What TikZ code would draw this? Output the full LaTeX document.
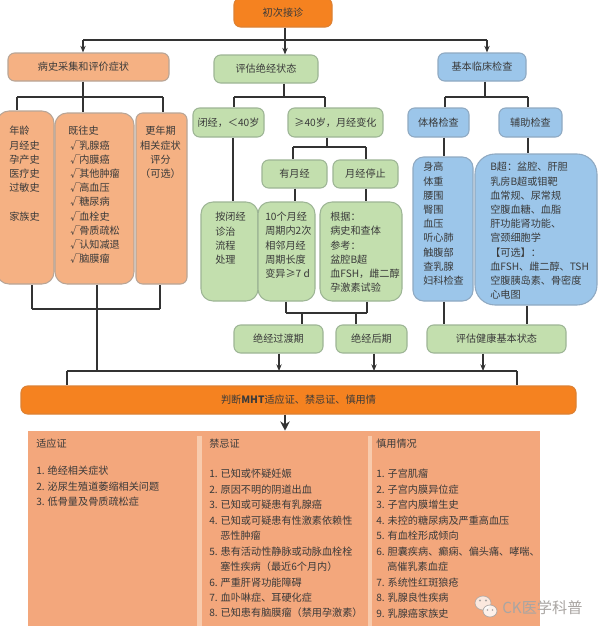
\documentclass[tikz,border=0pt]{standalone}
\usepackage{fontspec}
\setmainfont{Noto Sans CJK SC}
\usetikzlibrary{arrows.meta}
\definecolor{cOr}{HTML}{F58220}
\definecolor{cOrL}{HTML}{F5B183}
\definecolor{cOrB}{HTML}{B8A596}
\definecolor{cGr}{HTML}{C3DFAE}
\definecolor{cGrB}{HTML}{9DB595}
\definecolor{cBl}{HTML}{9CC6EA}
\definecolor{cBlB}{HTML}{8FA9C2}
\definecolor{cPan}{HTML}{F3A77C}
\definecolor{cDiv}{HTML}{F8CBAD}
\definecolor{cTx}{HTML}{3A3A3A}
\definecolor{cLn}{HTML}{333333}
\definecolor{cMark}{HTML}{A9A5A2}
\tikzset{
 bxbase/.style={draw,line width=0.8pt,inner sep=0pt,rounded corners=5pt,text=cTx,font=\fontsize{7.6}{10}\selectfont},
 orbox/.style={bxbase,fill=cOrL,draw=cOrB},
 orbig/.style={orbox,rounded corners=9pt},
 grbox/.style={bxbase,fill=cGr,draw=cGrB},
 grbig/.style={grbox,rounded corners=9pt},
 blbox/.style={bxbase,fill=cBl,draw=cBlB},
 blbig/.style={blbox,rounded corners=8pt},
 blhuge/.style={blbox,rounded corners=15pt},
 hotbox/.style={bxbase,fill=cOr,draw=cOr!80!gray},
 ln/.style={draw=cLn,line width=0.8pt},
 arr/.style={ln,-{Stealth[length=5pt,width=4pt]}},
 arrbig/.style={ln,line width=1pt,-{Stealth[length=7pt,width=7pt]}},
 txleft/.style={inner sep=0pt,anchor=north west,align=left,text=cTx,font=\fontsize{7.6}{10.65}\selectfont},
 txmid/.style={inner sep=0pt,anchor=north,align=center,text=cTx,font=\fontsize{7.6}{10.65}\selectfont},
 txpanel/.style={inner sep=0pt,anchor=north west,align=left,text=cTx,font=\fontsize{7.6}{11.6}\selectfont},
 wm/.style={inner sep=0pt,anchor=west,text=cMark,font=\fontsize{11.4}{12}\selectfont},
}
\newcommand{\bx}[7]{%
 \pgfmathsetmacro\bw{(#4-#2)*0.75}\pgfmathsetmacro\bh{(#5-#3)*0.75}%
 \node[#6,minimum width=\bw pt,minimum height=\bh pt] (#1) at ({(#2+#4)/2},{(#3+#5)/2}) {#7};}
\newcommand{\ck}{\hspace*{1.5pt}\makebox[6.8pt][l]{√}}
\newcommand{\hg}{\hspace*{8.3pt}}
\begin{document}
\begin{tikzpicture}[x=0.75pt,y=-0.75pt]
\useasboundingbox (0,0) rectangle (600,632);
\fill[white] (0,0) rectangle (600,632);
% top row
\bx{first}{234}{-2}{332}{27}{hotbox}{初次接诊}
\bx{hist}{8}{53}{169}{81}{orbox}{病史采集和评价症状\hspace*{7.5pt}}
\bx{meno}{214}{55}{318}{83}{grbox}{评估绝经状态}
\bx{basic}{438}{53}{526}{81}{blbox}{基本临床检查}
% history boxes
\bx{hA}{-3}{111}{54}{284}{orbig}{}
\bx{hB}{55}{113}{134}{284}{orbig}{}
\bx{hC}{136}{113}{187}{284}{orbox}{}
\node[txleft] (hAt) at (9,126) {年龄\\月经史\\孕产史\\医疗史\\过敏史\\[10.65pt]家族史};
\node[txleft] (hBt) at (68,126) {既往史\\\ck 乳腺癌\\\ck 内膜癌\\\ck 其他肿瘤\\\ck 高血压\\\ck 糖尿病\\\ck 血栓史\\\ck 骨质疏松\\\ck 认知减退\\\ck 脑膜瘤};
\node[txmid] (hCt) at (160.5,126) {更年期\\相关症状\\评分\\（可选）};
% menopause boxes
\bx{amen}{193}{108}{264}{137}{grbox}{闭经，＜40岁}
\bx{over}{288}{108}{383}{137}{grbox}{≥40岁，月经变化}
\bx{hasm}{262}{160}{327}{188}{grbox}{有月经}
\bx{stop}{333}{160}{398}{188}{grbox}{月经停止}
\bx{gA}{201}{202}{258}{301}{grbig}{}
\bx{gB}{258}{202}{315}{301}{grbig}{}
\bx{gC}{320}{202}{402}{301}{grbig}{}
\node[txleft] (gAt) at (215,212) {按闭经\\诊治\\流程\\处理};
\node[txleft] (gBt) at (265,212) {10个月经\\周期内2次\\相邻月经\\周期长度\\变异≥7 d};
\node[txleft] (gCt) at (330,212) {根据：\\病史和查体\\参考：\\盆腔B超\\血FSH，雌二醇\\孕激素试验};
\bx{trans}{234}{325}{323}{353}{grbox}{绝经过渡期}
\bx{post}{336}{325}{407}{353}{grbox}{绝经后期}
\bx{health}{427}{325}{566}{353}{grbox}{评估健康基本状态}
% clinical boxes
\bx{phys}{408}{108}{469}{137}{blbox}{体格检查}
\bx{aux}{499}{108}{562}{137}{blbox}{辅助检查}
\bx{bA}{413}{157}{473}{301}{blbig}{}
\bx{bB}{475}{154}{597}{305}{blhuge}{}
\node[txleft] (bAt) at (423,162) {身高\\体重\\腰围\\臀围\\血压\\听心肺\\触腹部\\查乳腺\\妇科检查};
\node[txleft] (bBt) at (490,162) {B超：盆腔、肝胆\\乳房B超或钼靶\\血常规、尿常规\\空腹血糖、血脂\\肝功能肾功能、\\宫颈细胞学\\【可选】：\\血FSH、雌二醇、TSH\\空腹胰岛素、骨密度\\心电图};
% orange bar
\bx{bar}{21}{386}{576}{414}{hotbox}{判断\textbf{MHT}适应证、禁忌证、慎用情}
% bottom panel
\node[fill=cPan,inner sep=0pt,minimum width=384pt,minimum height=146.25pt] (panel) at (284,528.5) {};
\node[fill=cDiv,inner sep=0pt,minimum width=3.5pt,minimum height=142.5pt] (divA) at (199.5,531) {};
\node[fill=cDiv,inner sep=0pt,minimum width=3.2pt,minimum height=142.5pt] (divB) at (370,531) {};
\node[txpanel] (pAh) at (36,438.5) {适应证};
\node[txpanel] (pAt) at (36,466) {1. 绝经相关症状\\2. 泌尿生殖道萎缩相关问题\\3. 低骨量及骨质疏松症};
\node[txpanel] (pBh) at (209,438.5) {禁忌证};
\node[txpanel] (pBt) at (209,469) {1. 已知或怀疑妊娠\\2. 原因不明的阴道出血\\3. 已知或可疑患有乳腺癌\\4. 已知或可疑患有性激素依赖性\\\hg 恶性肿瘤\\5. 患有活动性静脉或动脉血栓栓\\\hg 塞性疾病（最近6个月内）\\6. 严重肝肾功能障碍\\7. 血卟啉症、耳硬化症\\8. 已知患有脑膜瘤（禁用孕激素）};
\node[txpanel] (pCh) at (376,438.5) {慎用情况};
\node[txpanel] (pCt) at (376,469) {1. 子宫肌瘤\\2. 子宫内膜异位症\\3. 子宫内膜增生史\\4. 未控的糖尿病及严重高血压\\5. 有血栓形成倾向\\6. 胆囊疾病、癫痫、偏头痛、哮喘、\\\hg 高催乳素血症\\7. 系统性红斑狼疮\\8. 乳腺良性疾病\\9. 乳腺癌家族史};
% connectors: first row
\coordinate (jT) at (285,40);
\coordinate (jTL) at (83,40);
\coordinate (jTR) at (487,40);
\draw[ln] (first.south -| jT) -- (jT);
\draw[ln] (jTL) -- (jTR);
\draw[arr] (jTL) -- (jTL |- hist.north);
\draw[arr] (jT) -- (jT |- meno.north);
\draw[arr] (jTR) -- (jTR |- basic.north);
% history
\coordinate (jH) at (83,97);
\coordinate (jHL) at (17,97);
\coordinate (jHR) at (163,97);
\draw[ln] (hist.south -| jH) -- (jH);
\draw[ln] (jHL) -- (jHR);
\draw[ln] (jHL) -- (jHL |- hA.north);
\draw[ln] (jH) -- (jH |- hB.north);
\draw[ln] (jHR) -- (jHR |- hC.north);
\coordinate (jI) at (97,309);
\coordinate (jIL) at (32,309);
\coordinate (jIR) at (160,309);
\draw[ln] (jIL) -- (jIR);
\draw[ln] (jIL) -- (jIL |- hA.south);
\draw[ln] (jIR) -- (jIR |- hC.south);
\draw[ln] (jI |- hB.south) -- (jI);
% menopause
\coordinate (jM) at (284,97);
\coordinate (jML) at (234,97);
\coordinate (jMR) at (325,97);
\draw[ln] (meno.south -| jM) -- (jM);
\draw[ln] (jML) -- (jMR);
\draw[ln] (jML) -- (jML |- amen.north);
\draw[ln] (jMR) -- (jMR |- over.north);
\coordinate (jN) at (327,147);
\coordinate (jNL) at (293,147);
\coordinate (jNR) at (366,147);
\draw[ln] (over.south -| jN) -- (jN);
\draw[ln] (jNL) -- (jNR);
\draw[ln] (jNL) -- (jNL |- hasm.north);
\draw[ln] (jNR) -- (jNR |- stop.north);
\coordinate (xA) at (233,170);
\coordinate (xB) at (295,195);
\coordinate (xC) at (366,195);
\draw[ln] (amen.south -| xA) -- (xA |- gA.north);
\draw[ln] (hasm.south -| xB) -- (xB |- gB.north);
\draw[ln] (stop.south -| xC) -- (xC |- gC.north);
\coordinate (jP) at (302,313);
\coordinate (jQ) at (356,313);
\coordinate (jPL) at (286,313);
\coordinate (jPR) at (367,313);
\draw[ln] (jPL) -- (jPR);
\draw[ln] (jPL |- gB.south) -- (jPL);
\draw[ln] (jPR |- gC.south) -- (jPR);
\draw[ln] (jP) -- (jP |- trans.north);
\draw[ln] (jQ) -- (jQ |- post.north);
% clinical
\coordinate (jB) at (485,97);
\coordinate (jBL) at (445,97);
\coordinate (jBR) at (528,97);
\draw[ln] (basic.south -| jB) -- (jB);
\draw[ln] (jBL) -- (jBR);
\draw[ln] (jBL) -- (jBL |- phys.north);
\draw[ln] (jBR) -- (jBR |- aux.north);
\coordinate (xD) at (444,147);
\coordinate (xE) at (528,147);
\coordinate (xF) at (444,315);
\coordinate (xG) at (527,315);
\draw[ln] (phys.south -| xD) -- (xD |- bA.north);
\draw[ln] (aux.south -| xE) -- (xE |- bB.north);
\draw[ln] (bA.south -| xF) -- (xF |- health.north);
\draw[ln] (bB.south -| xG) -- (xG |- health.north);
% lower bus
\coordinate (jLL) at (67,371);
\coordinate (jLR) at (517,371);
\coordinate (jA1) at (279,371);
\coordinate (jA2) at (374,371);
\coordinate (jA3) at (483,371);
\coordinate (jI2) at (97,371);
\draw[ln] (jLL) -- (jLR);
\draw[ln] (jI) -- (jI2);
\draw[ln] (jLL) -- (jLL |- bar.north);
\draw[ln] (jLR) -- (jLR |- bar.north);
\draw[arr] (trans.south -| jA1) -- (jA1);
\draw[arr] (post.south -| jA2) -- (jA2);
\draw[arr] (health.south -| jA3) -- (jA3);
\coordinate (xP) at (285,420);
\draw[arrbig] (bar.south -| xP) -- (xP |- panel.north);
% watermark
\fill[white,opacity=.75,draw=cMark,line width=.6pt] (483,603) ellipse (8 and 7);
\fill[white,opacity=.85,draw=cMark,line width=.6pt] (490,611) ellipse (7 and 6);
\fill[cMark] (480,600.5) circle (1.1) (486,600.5) circle (1.1) (487.5,610) circle (.9) (492.5,610) circle (.9);
\node[wm] (mark) at (502,608) {CK医学科普};
\end{tikzpicture}
\end{document}
